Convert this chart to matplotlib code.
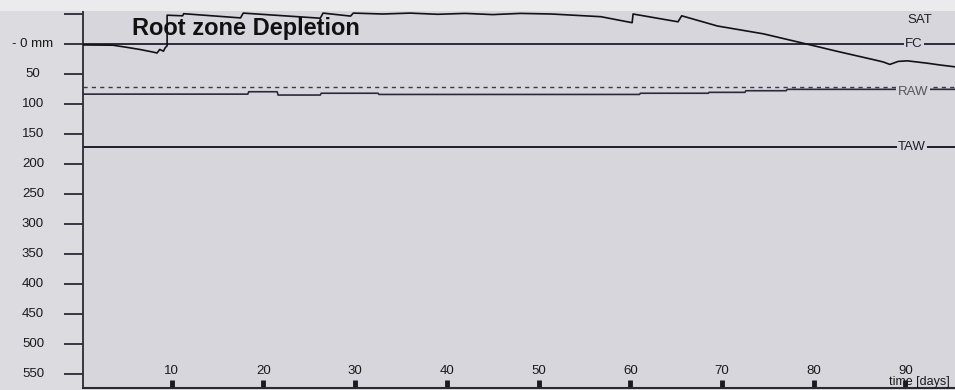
import matplotlib
matplotlib.use("Agg")
import matplotlib.pyplot as plt
import matplotlib.transforms as mtransforms
from matplotlib.patches import Rectangle

# ---------------- data ----------------
title = "Root zone Depletion"
y_ticks = [-50, 0, 50, 100, 150, 200, 250, 300, 350, 400, 450, 500, 550]
y_tick_labels = ["", "- 0 mm", "50", "100", "150", "200", "250", "300", "350",
                 "400", "450", "500", "550"]
x_ticks = [10, 20, 30, 40, 50, 60, 70, 80, 90]
x_tick_labels = ["10", "20", "30", "40", "50", "60", "70", "80", "90"]
x_label = "time [days]"

# root zone depletion (mm) vs time (days)
dep_days = [0.3, 3.6, 5.1, 6.5, 8.0, 8.4, 8.7, 9.1, 9.3, 9.5, 9.5, 11.2, 11.3,
            17.5, 17.8, 26.2, 26.5, 29.5, 29.8, 33.0, 36.0, 39.0, 42.0, 45.0,
            48.0, 51.4, 56.8, 60.2, 60.3, 65.2, 65.6, 69.5, 74.5, 79.5, 82.5,
            84.5, 86.5, 87.6, 88.3, 89.2, 90.2, 92.4, 93.8, 95.4]
dep_mm = [1.5, 2.0, 5.5, 9.0, 13.5, 15.0, 9.0, 12.0, 6.0, 3.0, -48.0, -47.0, -50.5,
          -43.5, -51.5, -43.0, -51.5, -46.5, -51.5, -50.0, -51.5, -49.5, -51.0,
          -49.0, -51.0, -50.0, -45.5, -35.5, -50.0, -37.0, -47.0, -30.0, -17.0,
          1.0, 12.0, 19.0, 26.0, 30.0, 34.0, 29.0, 28.0, 32.0, 35.0, 38.0]

fc_mm = [0, 0]
fc_days = [0.3, 95.4]
taw_mm = [171, 171]
taw_days = [0.3, 95.4]
dashed_mm = [71.5, 71.5]
dashed_days = [0.3, 95.4]

# readily available water (stepped)
raw_days = [0.3, 18.3, 18.4, 21.5, 21.6, 26.2, 26.3, 32.5, 32.6, 61.0, 61.1,
            68.5, 68.6, 72.5, 72.6, 77.0, 77.1, 95.4]
raw_mm = [83.5, 83.5, 79.5, 79.5, 85.0, 85.0, 82.0, 82.0, 84.0, 84.0, 82.0,
          82.0, 80.5, 80.5, 77.8, 77.8, 75.5, 75.5]

# ---------------- figure ----------------
W, H = 955, 390
fig = plt.figure(figsize=(W / 100, H / 100), dpi=100)
fig.patch.set_facecolor("#dcdbe0")
# light strip on top
fig.patches.append(Rectangle((0, (H - 11) / H), 1, 11 / H, transform=fig.transFigure,
                             facecolor="#ebebed", edgecolor="none", zorder=0))

ax = fig.add_axes([83 / W, 2 / H, 1 - 83 / W, (388 - 11) / H])
ax.set_facecolor("#d7d6dd")
ax.set_xlim(0.33, 95.4)
ax.set_ylim(573, -55)

for s in ["top", "right"]:
    ax.spines[s].set_visible(False)
ax.spines["left"].set_color("#2a2a35")
ax.spines["bottom"].set_color("#2a2a35")
ax.spines["left"].set_linewidth(1.3)
ax.spines["bottom"].set_linewidth(1.5)

dark = "#1e1e2c"
ax.plot(fc_days, fc_mm, color=dark, lw=1.3, zorder=2)
ax.plot(taw_days, taw_mm, color=dark, lw=1.4, zorder=2)
ax.plot(dashed_days, dashed_mm, color="#3a3a4a", lw=1.0, ls=(0, (3, 3)), zorder=2)
ax.plot(raw_days, raw_mm, color="#2a2a3a", lw=1.2, zorder=2)
ax.plot(dep_days, dep_mm, color="#111118", lw=1.2, zorder=3)

# line labels (hide line underneath)
lab_kw = dict(fontsize=9.5, family="Liberation Sans", va="center", ha="center",
              zorder=5, bbox=dict(facecolor="#d7d6dd", edgecolor="none", pad=1.0))
bt = mtransforms.blended_transform_factory(fig.transFigure, ax.transData)
ax.text(920 / W, -40, "SAT", transform=bt, color="#1e1e2a", **lab_kw)
ax.text(914 / W, 0, "FC", transform=bt, color="#1e1e2a", **lab_kw)
ax.text(913 / W, 80, "RAW", transform=bt, color="#55555f", **lab_kw)
ax.text(912 / W, 171, "TAW", transform=bt, color="#1e1e2a", **lab_kw)

# y ticks
ax.set_yticks(y_ticks)
ax.set_yticklabels([])
ax.tick_params(axis="y", direction="out", length=13.7, width=1.3, color="#2a2a38")
for v, lab in zip(y_ticks, y_tick_labels):
    ax.text(33 / W, v, lab, transform=bt, ha="center", va="center",
            fontsize=9.5, family="Liberation Sans", color="#1a1a1a")

# x ticks (inside)
ax.set_xticks(x_ticks)
ax.set_xticklabels([])
ax.tick_params(axis="x", direction="in", length=6, width=3.5, color="#1a1a22")
bx = mtransforms.blended_transform_factory(ax.transData, fig.transFigure)
for v, lab in zip(x_ticks, x_tick_labels):
    ax.text(v, (H - 371) / H, lab, transform=bx, ha="center", va="center",
            fontsize=9.5, family="Liberation Sans", color="#1a1a1a")
fig.text(919 / W, (H - 382) / H, x_label, ha="center", va="center",
         fontsize=9, family="Liberation Sans", color="#1a1a1a")

# title
fig.text(246 / W, (H - 35) / H, title, ha="center", va="baseline",
         fontsize=17, fontweight="bold", family="Liberation Sans", color="#111111")

fig.savefig("out.png", dpi=100, facecolor=fig.get_facecolor())
